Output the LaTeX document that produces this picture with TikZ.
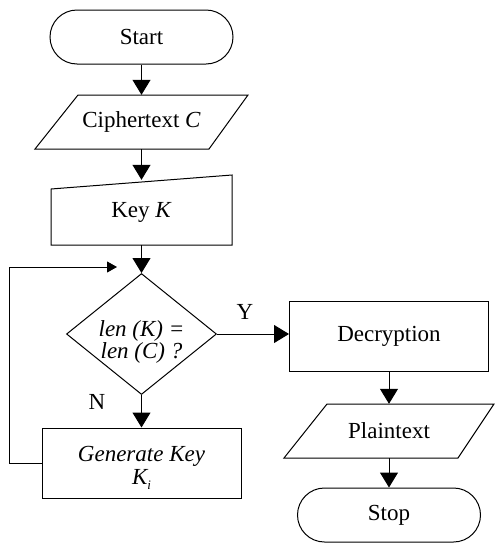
\documentclass[tikz,border=0pt]{standalone}
\usepackage{fontspec}
\setmainfont{Liberation Serif}
\usetikzlibrary{arrows.meta,shapes.geometric}
\begin{document}
\begin{tikzpicture}[x=1pt,y=-1pt,
  every node/.style={font=\fontsize{23}{24}\selectfont, inner sep=0pt},
  outl/.style={draw=black, line width=1pt, line join=miter},
  plain/.style={minimum width=120pt, minimum height=54pt},
  term/.style={outl, rectangle, rounded corners=27pt, minimum width=183pt, minimum height=54pt},
  procbox/.style={outl, rectangle, minimum width=199pt, minimum height=70pt, align=center},
  arr/.style={line width=1pt, -{Triangle[width=18pt,length=15pt]}},
  smallarr/.style={line width=1pt, -{Triangle[width=11pt,length=10pt]}},
  lbl/.style={font=\fontsize{23}{24}\selectfont}]
\useasboundingbox (0,0) rectangle (495,544);

% left column
\node[term] (start) at (141.5,37) {Start};
\node[plain] (cipher) at (141.5,122) {Ciphertext \textit{C}};
\draw[outl] (78,95) -- (248,95) -- (209,149) -- (35,149) -- cycle;
\node[plain, minimum height=65pt] (key) at (141.5,212.5) {Key \textit{K}};
\draw[outl] (51,189) -- (232,175) -- (232,245) -- (51,245) -- cycle;
\node[outl, diamond, minimum width=150pt, minimum height=121pt] (cond) at (141.5,334) {};
\node[font=\itshape\fontsize{23}{24}\selectfont, align=center] (condtext) at (141.5,342)
  {\shortstack{len (K) =\\[-2pt]len (C) ?}};
\node[procbox] (gen) at (141.5,463) {};
\node[font=\itshape\fontsize{23}{23}\selectfont, align=center] (gentext) at (141.5,468)
  {\shortstack{Generate Key\\K\raisebox{-5pt}{\fontsize{13}{13}\selectfont i}}};

% right column
\node[procbox] (decr) at (389,336) {Decryption};
\node[plain] (plaintext) at (389,431) {Plaintext};
\draw[outl] (327,404) -- (494,404) -- (458,458) -- (284,458) -- cycle;
\node[term] (stop) at (389,515) {Stop};

% labels
\node[lbl] (ylbl) at (245,312) {Y};
\node[lbl] (nlbl) at (97,402) {N};

% connectors
\draw[arr] (start.south) -- (cipher.north);
\draw[arr] (cipher.south) -- (key.north);
\draw[arr] (key.south) -- (cond.north);
\draw[arr] (cond.south) -- (gen.north);
\draw[arr] (cond.east) -- (cond.east -| decr.west);
\draw[arr] (decr.south) -- (plaintext.north);
\draw[arr] (plaintext.south) -- (stop.north);

\coordinate (loopA) at (9,463);
\coordinate (loopB) at (9,267);
\coordinate (loopEnd) at (117,267);
\draw[smallarr] (gen.west) -- (loopA) -- (loopB) -- (loopEnd);
\end{tikzpicture}
\end{document}
